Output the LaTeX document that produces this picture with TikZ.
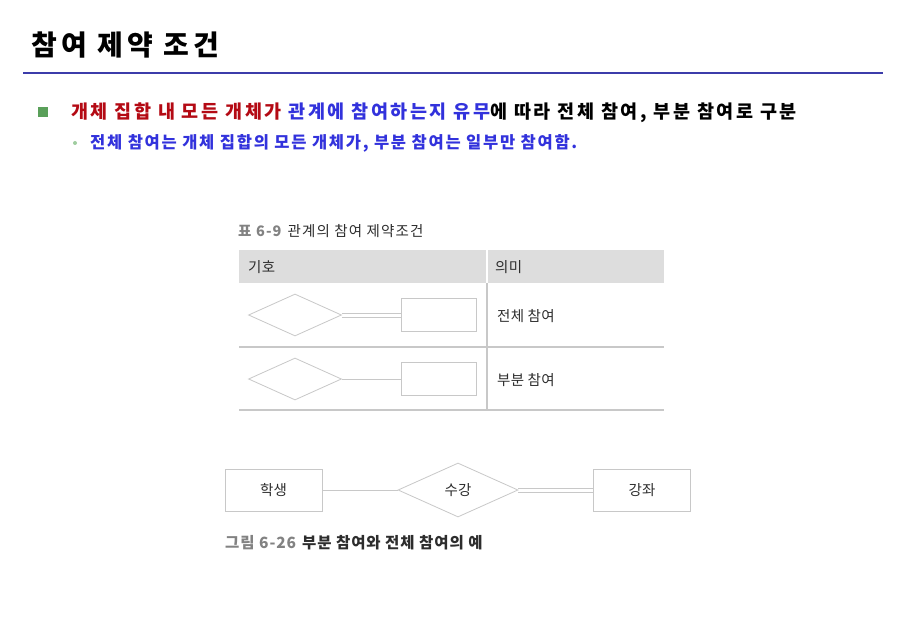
\documentclass[tikz,border=0pt]{standalone}
\usepackage{fontspec}
\setmainfont{Noto Sans CJK KR}
\usetikzlibrary{shapes.geometric}
\definecolor{redtxt}{RGB}{180,10,20}
\definecolor{bluetxt}{RGB}{50,50,220}
\definecolor{ruleblue}{RGB}{60,60,170}
\definecolor{bulgreen}{RGB}{90,160,90}
\definecolor{dotgreen}{RGB}{160,205,160}
\definecolor{shapegray}{RGB}{200,200,200}
\definecolor{headgray}{RGB}{221,221,221}
\definecolor{capgray}{RGB}{130,130,130}
\definecolor{txtdark}{RGB}{45,45,45}
\newcommand{\fsz}[2]{\fontsize{#1}{#1}\selectfont\addfontfeature{LetterSpace=#2}}
\begin{document}
\begin{tikzpicture}[
    x=1pt, y=-1pt,
    font=\fsz{14.5}{2}
]
	\tikzset{
	    ent/.style = {draw=shapegray, thick, minimum width=75pt, minimum height=33pt, inner sep=0pt, text=txtdark},
	    bigent/.style = {ent, minimum width=97pt, minimum height=42pt},
	    rel/.style = {diamond, draw=shapegray, thick, minimum width=93pt, minimum height=42pt, inner sep=0pt, text=txtdark},
	    bigrel/.style = {rel, minimum width=120pt, minimum height=54pt},
	    lnk/.style = {draw=shapegray, thick},
	    up/.style = {yshift=2pt},
	    dn/.style = {yshift=-2pt},
	    txt/.style = {anchor=west, inner sep=0pt, text=txtdark},
	    trule/.style = {draw=shapegray, line width=1.5pt}
	}
	\fill[white] (0,0) rectangle (904,631);
	\useasboundingbox (0,0) rectangle (904,631);
	% title
	\node[txt, text=black, font=\fsz{28}{15}\bfseries] (title) at (31,45) {참여 제약 조건};
	\draw[ruleblue, line width=2pt] (23,73) -- (883,73);
	% bullets
	\node[fill=bulgreen, minimum size=10pt, inner sep=0pt] (bul1) at (43,112) {};
	\node[txt, text=black, font=\fsz{18.5}{14}\bfseries] (line1) at (71,113)
	    {\textcolor{redtxt}{개체 집합 내 모든 개체가} \textcolor{bluetxt}{관계에 참여하는지 유무}에 따라 전체 참여, 부분 참여로 구분};
	\node[circle, fill=dotgreen, minimum size=4pt, inner sep=0pt] (bul2) at (75,143) {};
	\node[txt, text=bluetxt, font=\fsz{16.5}{10.5}\bfseries] (line2) at (90,143)
	    {전체 참여는 개체 집합의 모든 개체가, 부분 참여는 일부만 참여함.};
	% table 6-9
	\node[txt, font=\fsz{14.5}{8}] (tcap) at (238,231) {\textcolor{capgray}{\bfseries 표 6-9}\hspace{6pt}관계의 참여 제약조건};
	\fill[headgray] (239,250) rectangle (664,283);
	\draw[white, line width=1.5pt] (487,250) -- (487,283);
	\draw[trule] (487,283) -- (487,410);
	\draw[trule] (239,347) -- (664,347);
	\draw[trule] (239,410) -- (664,410);
	\node[txt] (symhead) at (248,267) {기호};
	\node[txt] (meanhead) at (495,267) {의미};
	\node[rel] (rel1) at (295,315) {};
	\node[ent] (ent1) at (438.5,315) {};
	\draw[lnk] ([up]rel1.east) -- ([up]ent1.west);
	\draw[lnk] ([dn]rel1.east) -- ([dn]ent1.west);
	\node[txt] (mean1) at (497,316) {전체 참여};
	\node[rel] (rel2) at (295,379) {};
	\node[ent] (ent2) at (438.5,379) {};
	\draw[lnk] (rel2.east) -- (ent2.west);
	\node[txt] (mean2) at (497,380) {부분 참여};
	% figure 6-26
	\node[bigent] (student) at (273.5,490) {학생};
	\node[bigrel] (enroll) at (458,490) {수강};
	\node[bigent] (course) at (642,490) {강좌};
	\draw[lnk] (student) -- (enroll);
	\draw[lnk] ([up]enroll.east) -- ([up]course.west);
	\draw[lnk] ([dn]enroll.east) -- ([dn]course.west);
	\node[txt, font=\fsz{15.5}{6}\bfseries] (fcap) at (225,543) {\textcolor{capgray}{그림 6-26}\hspace{6pt}부분 참여와 전체 참여의 예};
\end{tikzpicture}
\end{document}
